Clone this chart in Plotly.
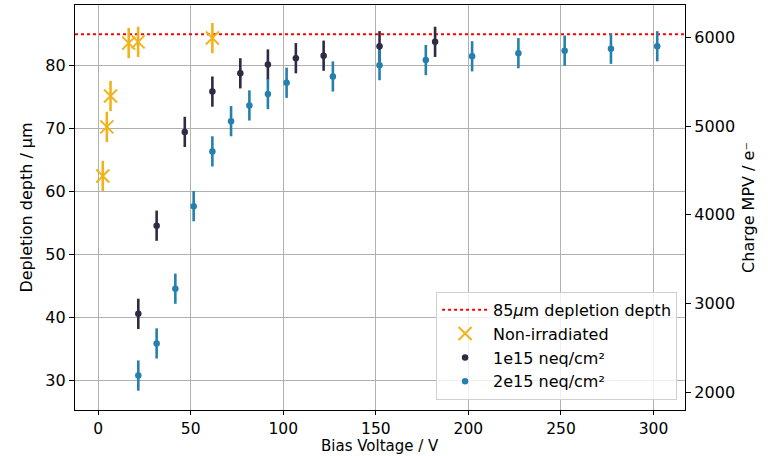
import plotly.graph_objects as go

# Depletion depth vs bias voltage for three sensor samples
v_nonirr = [2.5, 4.7, 6.7, 16.5, 21.6, 61.7]
d_nonirr = [62.5, 70.3, 75.2, 83.6, 83.8, 84.4]
e_nonirr = [2.4, 2.4, 2.4, 2.4, 2.4, 2.4]

v_1e15 = [21.7, 31.6, 46.8, 61.7, 76.8, 91.7, 106.8, 121.8, 152.0, 182.0]
d_1e15 = [40.6, 54.6, 69.5, 75.9, 78.8, 80.2, 81.2, 81.6, 83.1, 83.8]
e_1e15 = [2.4, 2.4, 2.4, 2.4, 2.4, 2.4, 2.4, 2.4, 2.4, 2.4]

v_2e15 = [21.7, 31.6, 41.7, 51.6, 61.7, 71.8, 81.7, 91.7, 101.8, 126.8,
          152.0, 177.0, 202.0, 227.0, 252.0, 277.0, 302.0]
d_2e15 = [30.8, 35.9, 44.6, 57.7, 66.4, 71.2, 73.7, 75.5, 77.3, 78.3,
          80.1, 80.9, 81.5, 82.0, 82.4, 82.7, 83.1]
e_2e15 = [2.4] * len(v_2e15)

full_depth = 85.0
charge_per_um = 71.0  # e- per micron, links the two y scales

x_range = [-12.5, 317.0]
y_range = [25.33, 89.65]
x_ticks = [0, 50, 100, 150, 200, 250, 300]
y_ticks = [30, 40, 50, 60, 70, 80]
charge_ticks = [2000, 3000, 4000, 5000, 6000]

C_YEL = "#f1b31c"
C_DARK = "#2e2b45"
C_BLUE = "#2580ad"
FONT = "DejaVu Sans"
FS = 16

fig = go.Figure()

fig.add_trace(go.Scatter(
    x=x_range, y=[full_depth, full_depth], mode="lines",
    line=dict(color="red", width=2, dash="dot"),
    name="85<i>μ</i>m depletion depth",
))
fig.add_trace(go.Scatter(
    x=v_nonirr, y=d_nonirr, mode="markers", name="Non-irradiated",
    marker=dict(symbol="x-thin", size=13, color=C_YEL,
                line=dict(color=C_YEL, width=2)),
    error_y=dict(type="data", array=e_nonirr, color=C_YEL, thickness=2.6, width=0),
))
fig.add_trace(go.Scatter(
    x=v_1e15, y=d_1e15, mode="markers", name="1e15 neq/cm²",
    marker=dict(symbol="circle", size=6.5, color=C_DARK),
    error_y=dict(type="data", array=e_1e15, color=C_DARK, thickness=2.6, width=0),
))
fig.add_trace(go.Scatter(
    x=v_2e15, y=d_2e15, mode="markers", name="2e15 neq/cm²",
    marker=dict(symbol="circle", size=6.5, color=C_BLUE),
    error_y=dict(type="data", array=e_2e15, color=C_BLUE, thickness=2.6, width=0),
))
# invisible trace to activate the charge axis
fig.add_trace(go.Scatter(
    x=[x_range[0]], y=[charge_ticks[0]], yaxis="y2", mode="markers",
    marker=dict(opacity=0), showlegend=False, hoverinfo="skip",
))

axis_common = dict(
    showline=True, linecolor="black", linewidth=1.3,
    ticks="outside", ticklen=5, tickwidth=1, tickcolor="black",
    tickfont=dict(family=FONT, size=FS, color="black"),
    zeroline=False, automargin=False,
)

fig.update_layout(
    width=768, height=456,
    margin=dict(l=75, r=83, t=5, b=46, autoexpand=False),
    paper_bgcolor="white", plot_bgcolor="white",
    font=dict(family=FONT, size=FS, color="black"),
    xaxis=dict(
        range=x_range, tickvals=x_ticks, mirror=True,
        showgrid=True, gridcolor="#b0b0b0", gridwidth=1,
        **{**axis_common, "tickfont": dict(family=FONT, size=15.5, color="black"),
           "ticklen": 4},
    ),
    yaxis=dict(
        range=y_range, tickvals=y_ticks, mirror=True,
        showgrid=True, gridcolor="#b0b0b0", gridwidth=1,
        title=dict(text="Depletion depth / µm", font=dict(size=FS), standoff=8),
        **axis_common,
    ),
    yaxis2=dict(
        range=[y_range[0] * charge_per_um, y_range[1] * charge_per_um],
        tickvals=charge_ticks, overlaying="y", side="right", showgrid=False,
        title=dict(text="Charge MPV / e⁻", font=dict(size=FS), standoff=8),
        **axis_common,
    ),
    legend=dict(
        x=0.987, y=0.025, xanchor="right", yanchor="bottom",
        bgcolor="rgba(255,255,255,0.8)", bordercolor="#d0d0d0", borderwidth=1,
        font=dict(family=FONT, size=FS, color="black"),
        tracegroupgap=0, itemwidth=46,
    ),
    showlegend=True,
)

# x-axis title placed as text below the tick labels
fig.add_annotation(
    text="Bias Voltage / V", xref="paper", yref="paper",
    x=0.5, y=-0.089, xanchor="center", yanchor="middle",
    showarrow=False, font=dict(family=FONT, size=15, color="black"),
)

fig.write_html("out.html")
